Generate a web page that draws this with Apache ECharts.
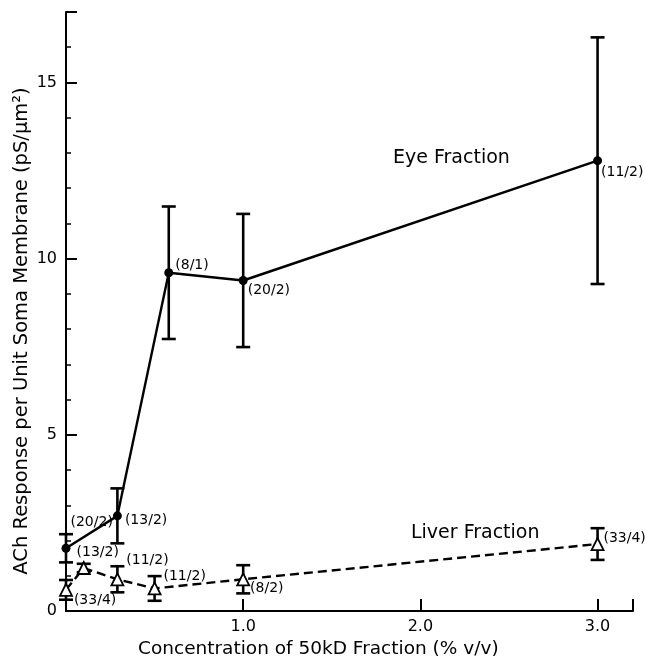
<!DOCTYPE html>
<html>
<head>
<meta charset="utf-8">
<script src="https://cdn.jsdelivr.net/npm/echarts@6/dist/echarts.min.js"></script>
<style>
  html, body { margin: 0; padding: 0; background: #fff; }
  #chart { width: 645px; height: 664px; }
</style>
</head>
<body>
<div id="chart"></div>
<script>
// eye fraction (filled circles, solid line)
const eyeX = [0, 0.29, 0.58, 1.0, 3.0];
const eyeY = [1.78, 2.7, 9.6, 9.38, 12.78];
const eyeErr = [0.4, 0.78, 1.88, 1.89, 3.5];
const eyeN = ['(20/2)', '(13/2)', '(8/1)', '(20/2)', '(11/2)'];

// liver fraction (open triangles, dashed line)
const liverX = [0, 0.1, 0.29, 0.5, 1.0, 3.0];
const liverY = [0.6, 1.22, 0.9, 0.64, 0.9, 1.9];
const liverErr = [0.28, 0.12, 0.37, 0.35, 0.4, 0.45];
const liverN = ['(33/4)', '(13/2)', '(11/2)', '(11/2)', '(8/2)', '(33/4)'];

const FONT = 'DejaVu Sans';

// where each (n/m) label sits next to its point
const eyeLab = [
  { position: 'right', offset: [-3, -26] },
  { position: 'right', offset: [0, 4] },
  { position: 'right', offset: [-1, -7] },
  { position: 'right', offset: [-3, 10] },
  { position: 'right', offset: [-4, 12] }
];
const liverLab = [
  { position: 'right', offset: [-2, 11] },
  { position: 'top', offset: [14, 1] },
  { position: 'right', offset: [-1, -19] },
  { position: 'right', offset: [-1, -12] },
  { position: 'right', offset: [-3, 9] },
  { position: 'right', offset: [-4, -6] }
];

function points(xs, ys, names, lab) {
  return xs.map((x, i) => ({
    value: [x, ys[i]],
    label: Object.assign({ show: true, formatter: names[i], color: '#000',
      fontFamily: FONT, fontSize: 14, distance: 3 }, lab[i])
  }));
}

function errRows(xs, ys, es) {
  return xs.map((x, i) => [x, ys[i], es[i]]);
}

function errorBar(params, api) {
  const x = api.value(0), y = api.value(1), e = api.value(2);
  const top = api.coord([x, y + e]);
  const bot = api.coord([x, y - e]);
  const w = 7;
  const st = { stroke: '#000', lineWidth: 2.6 };
  return {
    type: 'group',
    children: [
      { type: 'line', shape: { x1: top[0], y1: top[1], x2: bot[0], y2: bot[1] }, style: st },
      { type: 'line', shape: { x1: top[0] - w, y1: top[1], x2: top[0] + w, y2: top[1] }, style: st },
      { type: 'line', shape: { x1: bot[0] - w, y1: bot[1], x2: bot[0] + w, y2: bot[1] }, style: st }
    ]
  };
}

const chart = echarts.init(document.getElementById('chart'));
chart.setOption({
  animation: false,
  backgroundColor: '#fff',
  grid: { left: 66, right: 12, top: 12, bottom: 53 },
  xAxis: {
    type: 'value',
    min: 0,
    max: 3.2,
    interval: 1,
    splitLine: { show: false },
    axisLine: { lineStyle: { color: '#000', width: 2 } },
    axisTick: { inside: true, length: 12, lineStyle: { color: '#000', width: 2 } },
    axisLabel: {
      color: '#000', fontFamily: FONT, fontSize: 16, margin: 8,
      formatter: v => (v > 0 && Number.isInteger(v)) ? v.toFixed(1) : ''
    }
  },
  yAxis: {
    type: 'value',
    min: 0,
    max: 17,
    interval: 5,
    splitLine: { show: false },
    axisLine: { lineStyle: { color: '#000', width: 2 } },
    axisTick: { inside: true, length: 11, lineStyle: { color: '#000', width: 2 } },
    minorTick: { show: true, splitNumber: 5, length: 5, lineStyle: { color: '#000', width: 1.5 } },
    axisLabel: { color: '#000', fontFamily: FONT, fontSize: 16, margin: 9, showMaxLabel: false }
  },
  graphic: [
    {
      type: 'text', left: 138, top: 640,
      style: { text: 'Concentration of 50kD Fraction (% v/v)', fill: '#000', font: '18.5px "DejaVu Sans"' }
    },
    {
      type: 'text', x: 22, y: 331, rotation: Math.PI / 2,
      style: {
        text: 'ACh Response per Unit Soma Membrane (pS/μm²)', fill: '#000',
        font: '19.5px "DejaVu Sans"', align: 'center', verticalAlign: 'middle'
      }
    },
    {
      type: 'text', left: 393, top: 149,
      style: { text: 'Eye Fraction', fill: '#000', font: '19px "DejaVu Sans"' }
    },
    {
      type: 'text', left: 411, top: 524,
      style: { text: 'Liver Fraction', fill: '#000', font: '19px "DejaVu Sans"' }
    }
  ],
  series: [
    {
      name: 'Eye error', type: 'custom', renderItem: errorBar,
      data: errRows(eyeX, eyeY, eyeErr), z: 2, clip: false
    },
    {
      name: 'Liver error', type: 'custom', renderItem: errorBar,
      data: errRows(liverX, liverY, liverErr), z: 2, clip: false
    },
    {
      name: 'Eye Fraction', type: 'line',
      data: points(eyeX, eyeY, eyeN, eyeLab),
      symbol: 'circle', symbolSize: 9,
      itemStyle: { color: '#000' },
      lineStyle: { color: '#000', width: 2.4 },
      z: 3
    },
    {
      name: 'Liver Fraction', type: 'line',
      data: points(liverX, liverY, liverN, liverLab),
      symbol: 'triangle', symbolSize: 12,
      itemStyle: { color: '#fff', borderColor: '#000', borderWidth: 1.8 },
      lineStyle: { color: '#000', width: 2.4, type: [9, 5] },
      z: 3
    }
  ]
});
</script>
</body>
</html>
